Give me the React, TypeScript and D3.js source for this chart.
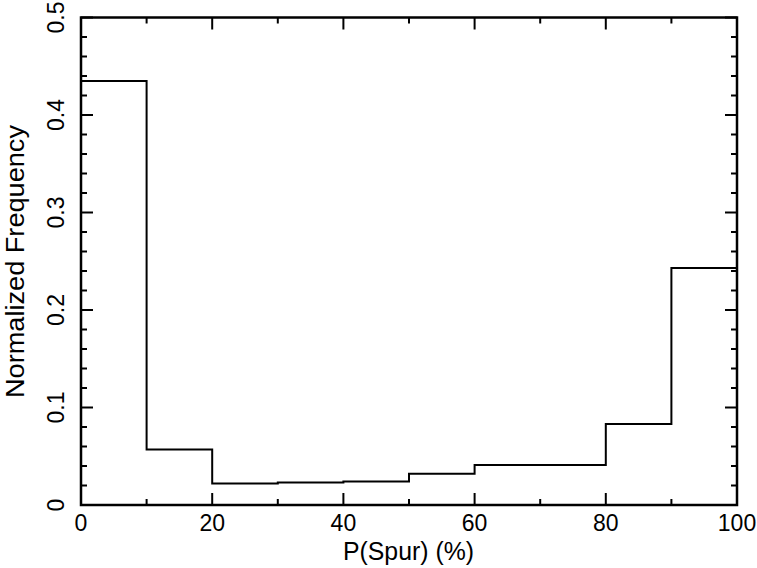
import { useEffect, useRef } from "react";
import * as d3 from "d3";

// histogram bins (P(Spur) %), lower edges
const binEdges = [0, 10, 20, 30, 40, 50, 60, 70, 80, 90, 100];
const frequencies = [0.435, 0.057, 0.022, 0.023, 0.024, 0.032, 0.041, 0.041, 0.083, 0.243];
const xTicks = [0, 20, 40, 60, 80, 100];
const yTicks = [0, 0.1, 0.2, 0.3, 0.4, 0.5];

const W = 757;
const H = 568;

export default function App() {
  const ref = useRef<SVGSVGElement>(null);

  useEffect(() => {
    const svg = d3.select(ref.current);
    svg.selectAll("*").remove();

    const left = 81, right = 737, top = 17.5, bottom = 505;
    const x = d3.scaleLinear().domain([0, 100]).range([left, right]);
    const y = d3.scaleLinear().domain([0, 0.5]).range([bottom, top]);
    const font = "Liberation Sans, Arial, Helvetica, sans-serif";

    const g = svg.append("g");

    // histogram outline
    const pts: [number, number][] = frequencies.map((f, i) => [binEdges[i], f]);
    pts.push([binEdges[binEdges.length - 1], frequencies[frequencies.length - 1]]);
    const line = d3
      .line<[number, number]>()
      .x(d => x(d[0]))
      .y(d => y(d[1]))
      .curve(d3.curveStepAfter);
    g.append("path")
      .attr("d", line(pts))
      .attr("fill", "none")
      .attr("stroke", "#000")
      .attr("stroke-width", 2);

    // ticks on all four sides, pointing inward
    d3.range(0, 101, 10).forEach(v => {
      const len = v % 20 === 0 ? 12 : 6;
      g.append("line").attr("x1", x(v)).attr("x2", x(v)).attr("y1", bottom).attr("y2", bottom - len)
        .attr("stroke", "#000").attr("stroke-width", 2);
      g.append("line").attr("x1", x(v)).attr("x2", x(v)).attr("y1", top).attr("y2", top + len)
        .attr("stroke", "#000").attr("stroke-width", 2);
    });
    d3.range(0, 26).forEach(i => {
      const v = i * 0.02;
      const len = i % 5 === 0 ? 12 : 6;
      g.append("line").attr("x1", left).attr("x2", left + len).attr("y1", y(v)).attr("y2", y(v))
        .attr("stroke", "#000").attr("stroke-width", 2);
      g.append("line").attr("x1", right).attr("x2", right - len).attr("y1", y(v)).attr("y2", y(v))
        .attr("stroke", "#000").attr("stroke-width", 2);
    });

    // frame
    g.append("rect")
      .attr("x", left).attr("y", top)
      .attr("width", right - left).attr("height", bottom - top)
      .attr("fill", "none").attr("stroke", "#000").attr("stroke-width", 2.5);

    // x tick labels
    g.selectAll(".xl")
      .data(xTicks)
      .enter()
      .append("text")
      .attr("x", d => x(d))
      .attr("y", 531)
      .attr("text-anchor", "middle")
      .attr("font-family", font)
      .attr("font-size", 23)
      .text(d => d3.format("d")(d));

    // y tick labels (rotated)
    g.selectAll(".yl")
      .data(yTicks)
      .enter()
      .append("text")
      .attr("transform", d => `translate(64,${y(d)}) rotate(-90)`)
      .attr("text-anchor", "middle")
      .attr("font-family", font)
      .attr("font-size", 23)
      .text(d => (d === 0 ? "0" : d3.format(".1f")(d)));

    // axis titles
    g.append("text")
      .attr("x", 408.5)
      .attr("y", 560)
      .attr("text-anchor", "middle")
      .attr("font-family", font)
      .attr("font-size", 25)
      .attr("textLength", 131)
      .attr("lengthAdjust", "spacingAndGlyphs")
      .text("P(Spur) (%)");

    g.append("text")
      .attr("transform", `translate(24,261.5) rotate(-90)`)
      .attr("text-anchor", "middle")
      .attr("font-family", font)
      .attr("font-size", 25)
      .attr("textLength", 273)
      .attr("lengthAdjust", "spacingAndGlyphs")
      .text("Normalized Frequency");
  }, []);

  return (
    <svg
      ref={ref}
      width={W}
      height={H}
      style={{ position: "absolute", left: 0, top: 0, background: "#fff" }}
    />
  );
}
